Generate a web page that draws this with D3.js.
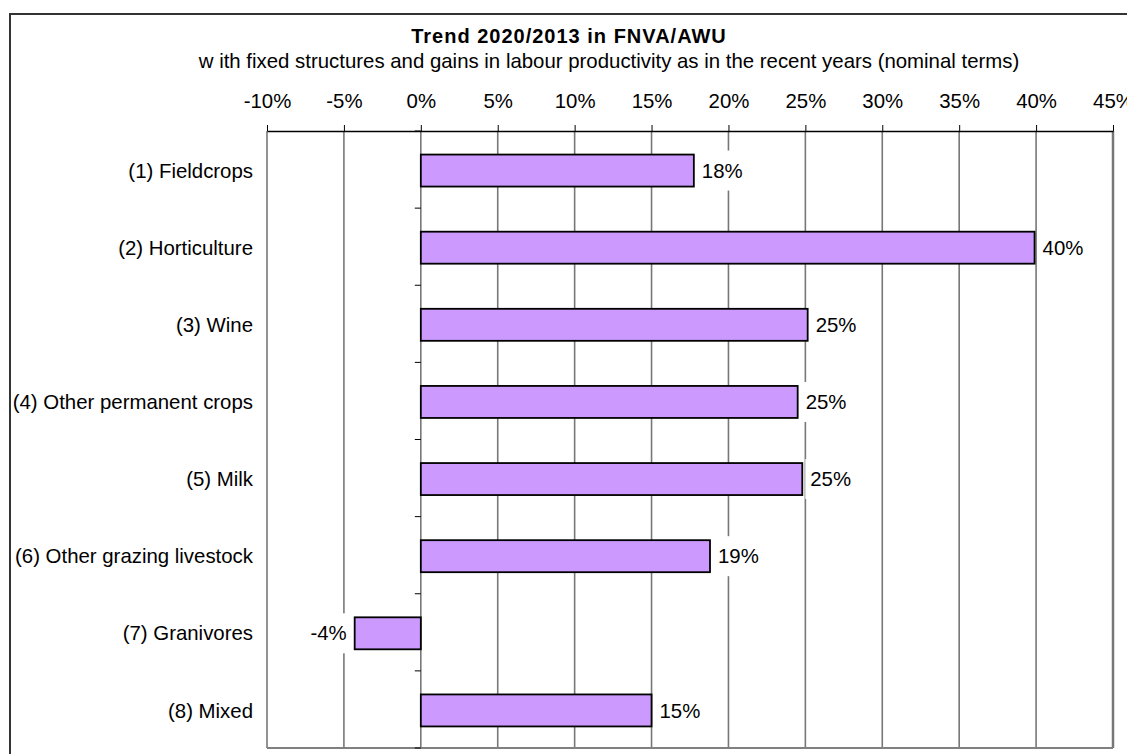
<!DOCTYPE html>
<html><head><meta charset="utf-8">
<script src="https://cdn.jsdelivr.net/npm/d3@7"></script>
<style>body{margin:0;background:#fff}svg{display:block}text{font-family:"Liberation Sans",Arial,sans-serif;fill:#000}</style>
</head><body>
<svg id="c" width="1127" height="754"></svg>
<script>
const categories = ["(1) Fieldcrops","(2) Horticulture","(3) Wine","(4) Other permanent crops","(5) Milk","(6) Other grazing livestock","(7) Granivores","(8) Mixed"];
const values = [0.1775, 0.399, 0.2515, 0.245, 0.248, 0.188, -0.043, 0.150];
const valueLabels = ["18%","40%","25%","25%","25%","19%","-4%","15%"];
const tickValues = [-0.10,-0.05,0,0.05,0.10,0.15,0.20,0.25,0.30,0.35,0.40,0.45];
const titleText = "Trend 2020/2013 in FNVA/AWU";
const subtitleText = "w ith fixed structures and gains in labour productivity as in the recent years (nominal terms)";

const svg = d3.select("#c");
const L = 267, R = 1113, T = 131, B = 748;
const x = d3.scaleLinear().domain([-0.10, 0.45]).range([L, R]);
const y = d3.scaleBand().domain(categories).range([T, B]).padding(0);
const fs = 20.4;

// outer border
svg.append("rect").attr("x",10).attr("y",14).attr("width",1300).attr("height",900)
  .attr("fill","none").attr("stroke","#333").attr("stroke-width",2);

// title
svg.append("text").attr("x",569).attr("y",43).attr("text-anchor","middle")
  .style("font-weight","bold").style("font-size","20px").style("letter-spacing","1px").text(titleText);
svg.append("text").attr("x",609).attr("y",68).attr("text-anchor","middle")
  .style("font-size",fs+"px").text(subtitleText);

// gridlines
svg.append("g").selectAll("line").data(tickValues).join("line")
  .attr("x1",d=>x(d)).attr("x2",d=>x(d)).attr("y1",T).attr("y2",B)
  .attr("stroke","#777").attr("stroke-width",d=>d===0.45?2.5:1.6);
svg.append("line").attr("x1",L).attr("x2",R).attr("y1",B).attr("y2",B)
  .attr("stroke","#808080").attr("stroke-width",2);

// top axis
const ax = d3.axisTop(x).tickValues(tickValues).tickSize(6).tickSizeOuter(0)
  .tickFormat(d=>Math.round(d*100)+"%");
const gx = svg.append("g").attr("transform",`translate(0,${T})`).call(ax);
gx.select(".domain").attr("stroke","#000").attr("stroke-width",1.5);
gx.selectAll(".tick line").attr("stroke","#000");
gx.selectAll(".tick text").attr("y",-23).style("font-size",fs+"px")
  .style("font-family",'"Liberation Sans",Arial,sans-serif').attr("fill","#000");

// category ticks on zero axis
const bounds = d3.range(categories.length+1).map(i=>T + i*y.step());
svg.append("g").selectAll("line").data(bounds).join("line")
  .attr("x1",x(0)-6).attr("x2",x(0)).attr("y1",d=>d).attr("y2",d=>d)
  .attr("stroke","#000").attr("stroke-width",1);

// category labels
svg.append("g").selectAll("text").data(categories).join("text")
  .attr("x",253).attr("y",d=>y(d)+y.bandwidth()/2+1).attr("dy","0.35em")
  .attr("text-anchor","end").style("font-size",fs+"px").text(d=>d);

// bars
const bh = 32;
svg.append("g").selectAll("rect").data(values).join("rect")
  .attr("x",d=>x(Math.min(0,d))).attr("width",d=>Math.abs(x(d)-x(0)))
  .attr("y",(d,i)=>y(categories[i])+y.bandwidth()/2-bh/2+1).attr("height",bh)
  .attr("fill","#CC99FF").attr("stroke","#000").attr("stroke-width",1.8);

// value labels with white background
const lg = svg.append("g");
values.forEach((v,i)=>{
  const cy = y(categories[i])+y.bandwidth()/2+1;
  const g = lg.append("g");
  const t = g.append("text").attr("y",cy).attr("dy","0.35em").style("font-size",fs+"px").text(valueLabels[i]);
  const w = t.node().getComputedTextLength();
  let tx;
  if (v >= 0) tx = x(v) + 8; else tx = x(v) - 8 - w;
  t.attr("x",tx);
  g.insert("rect","text").attr("x",tx-5).attr("y",cy-20).attr("width",w+10).attr("height",40).attr("fill","#fff");
});
</script>
</body></html>
